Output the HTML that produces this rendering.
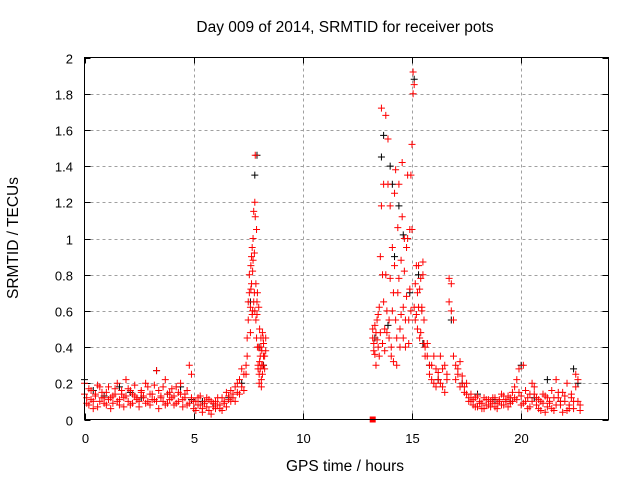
<!DOCTYPE html>
<html><head><meta charset="utf-8"><style>
html,body{margin:0;padding:0;background:#fff;}
svg{display:block;font-family:"Liberation Sans",sans-serif;}
</style></head><body>
<svg id="chart" width="640" height="480" viewBox="0 0 640 480">
<text x="345" y="32" font-size="15.5" text-anchor="middle">Day 009 of 2014, SRMTID for receiver pots</text>
<text x="345" y="471" font-size="15.5" text-anchor="middle">GPS time / hours</text>
<text transform="translate(18,238) rotate(-90)" font-size="15.5" text-anchor="middle">SRMTID / TECUs</text>
<g id="grid"></g>
<g id="ticks"></g>
<g id="black"></g>
<g id="red"></g>
<rect x="84.5" y="57.5" width="524" height="362" fill="none" stroke="#000"/>
</svg>
<script>
const xTicks=[0,5,10,15,20];
const yTicks=[0,0.2,0.4,0.6,0.8,1,1.2,1.4,1.6,1.8,2];
const yTickLabels=["0","0.2","0.4","0.6","0.8","1","1.2","1.4","1.6","1.8","2"];

const hoursA=[0,0.1,0.2,0.3,0.4,0.5,0.6,0.7,0.8,0.9,1,1.1,1.2,1.3,1.4,1.5,1.6,1.7,1.8,1.9,2,2.1,2.2,2.3,2.4,2.5,2.6,2.7,2.8,2.9,3,3.1,3.2,3.3,3.4,3.5,3.6,3.7,3.8,3.9,4,4.1,4.2,4.3,4.4,4.5,4.6,4.7,4.8,4.9,5,5.1,5.2,5.3,5.4,5.5,5.6,5.7,5.8,5.9,6,6.1,6.2,6.3,6.4,6.5,6.6,6.7,6.8,6.9,7,7.1,7.2,7.3];
const tecA1=[.20,.12,.08,.16,.10,.14,.07,.18,.12,.09,.15,.11,.06,.13,.17,.10,.08,.14,.12,.22,.10,.16,.09,.13,.11,.07,.15,.12,.20,.10,.08,.14,.11,.27,.06,.13,.10,.22,.09,.15,.12,.08,.18,.10,.14,.07,.12,.16,.09,.25,.10,.05,.12,.08,.04,.10,.07,.11,.03,.09,.06,.12,.08,.05,.10,.07,.13,.10,.14,.18,.15,.22,.18,.25];
const tecA2=[.14,.09,.17,.11,.06,.13,.19,.10,.15,.12,.08,.18,.12,.09,.14,.20,.11,.16,.07,.13,.17,.08,.14,.19,.12,.10,.16,.13,.09,.18,.14,.11,.19,.10,.16,.12,.18,.08,.14,.11,.17,.13,.09,.15,.20,.11,.14,.08,.30,.12,.06,.10,.08,.13,.06,.09,.12,.05,.10,.07,.10,.08,.06,.12,.09,.15,.11,.16,.12,.10,.20,.14,.28,.16];

const hoursB=[7.4,7.45,7.5,7.55,7.6,7.62,7.65,7.68,7.7,7.72,7.75,7.78,7.8,7.82,7.85,7.88,7.9,7.92,7.95,7.98,8.0,8.02,8.05,8.08,8.1,8.12,8.15,8.18,8.2,8.25,8.3];
const tecB1=[.30,.45,.55,.70,.62,.85,.75,.95,.60,.88,1.15,.70,1.20,1.46,.55,1.05,.65,.40,.30,.62,.25,.50,.35,.45,.22,.38,.48,.30,.42,.35,.45];
const tecB2=[.25,.35,.65,.80,.48,.72,.90,.58,.82,1.0,.65,.92,.60,1.12,.75,.45,.58,.70,.28,.40,.20,.32,.28,.40,.18,.30,.25,.45,.35,.28,.38];

const hoursC=[13.2,13.25,13.3,13.35,13.4,13.45,13.5,13.55,13.6,13.65,13.7,13.75,13.8,13.85,13.9,13.95,14,14.05,14.1,14.15,14.2,14.25,14.3,14.35,14.4,14.45,14.5,14.55,14.6,14.65,14.7,14.75,14.8,14.85,14.9,14.95,15,15.05,15.1,15.15,15.2,15.25,15.3,15.35,15.4,15.45,15.5,15.55,15.6];
const tecC1=[.50,.42,.36,.48,.55,.40,.62,.90,1.72,.80,1.30,.50,1.68,.60,1.55,.45,1.18,.35,.95,.70,1.25,.55,.30,1.06,.78,.50,.88,1.42,.62,1.00,.40,.95,1.35,.55,1.05,.60,1.52,1.92,1.85,.75,.58,.70,.85,.45,.78,.62,.87,.55,.40];
const tecC2=[.45,.38,.52,.30,.44,.58,.35,.48,1.18,.42,.65,.38,.80,.48,1.30,.55,.78,.40,.60,.32,.85,1.38,.45,.70,1.30,.40,.58,1.12,.45,.82,.55,.68,1.00,.42,.72,1.35,1.05,1.80,.62,.55,.85,.50,.62,.72,.48,.60,.80,.42,.35];

const hoursD=[15.7,15.8,15.9,16,16.1,16.2,16.3,16.4,16.5,16.6,16.7,16.8,16.9,17,17.1,17.2,17.3,17.4,17.5,17.6,17.7,17.8,17.9,18,18.1,18.2,18.3,18.4,18.5,18.6,18.7,18.8,18.9,19,19.1,19.2,19.3,19.4,19.5,19.6,19.7,19.8,19.9,20,20.1,20.2,20.3,20.4,20.5,20.6,20.7,20.8,20.9,21,21.1,21.2,21.3,21.4,21.5,21.6,21.7,21.8,21.9,22,22.1,22.2,22.3,22.4,22.5,22.6,22.7];
const tecD1=[.35,.25,.30,.20,.28,.22,.35,.18,.30,.25,.65,.75,.55,.30,.25,.32,.20,.18,.14,.12,.10,.08,.12,.07,.10,.09,.06,.11,.08,.10,.12,.07,.09,.11,.08,.13,.10,.07,.12,.15,.18,.11,.28,.13,.09,.16,.12,.07,.20,.14,.08,.11,.05,.09,.13,.07,.10,.16,.05,.22,.12,.08,.15,.10,.05,.08,.12,.06,.25,.10,.05];
const tecD2=[.42,.30,.22,.35,.18,.26,.20,.28,.15,.22,.78,.60,.35,.22,.28,.18,.24,.15,.20,.10,.14,.11,.07,.13,.09,.06,.12,.08,.11,.07,.09,.12,.06,.10,.14,.08,.11,.13,.09,.10,.12,.22,.15,.08,.30,.10,.06,.14,.10,.18,.12,.06,.10,.14,.04,.12,.09,.06,.12,.08,.15,.10,.04,.13,.20,.06,.14,.10,.18,.22,.08];

const blackHours=[0,0.4,0.9,1.6,2.1,2.6,3.3,3.8,4.4,4.9,5.4,6.0,6.6,7.2,7.6,7.8,7.9,8.0,8.2,13.3,13.6,13.7,13.9,14.0,14.1,14.2,14.4,14.6,14.9,15.1,15.3,15.5,15.8,16.2,16.8,17.3,18.0,18.8,19.5,20.0,20.6,21.2,21.8,22.4,22.6];
const blackTec=[0.22,0.16,0.13,0.18,0.15,0.12,0.27,0.14,0.18,0.11,0.1,0.08,0.12,0.2,0.65,1.35,1.46,0.4,0.3,0.45,1.45,1.57,0.52,1.4,1.3,0.9,1.18,1.02,0.7,1.88,0.8,0.42,0.3,0.22,0.55,0.2,0.14,0.11,0.1,0.3,0.12,0.22,0.1,0.28,0.2];
const squareHours=[13.2];
const squareTec=[0];

const X0=84.5,X1=608.5,Y0=419.5,Y1=57.5;
const xs=h=>X0+(h/24)*(X1-X0);
const ys=v=>Y0-(v/2)*(Y0-Y1);
const NS="http://www.w3.org/2000/svg";
function mk(tag,attrs,parent){const e=document.createElementNS(NS,tag);for(const k in attrs)e.setAttribute(k,attrs[k]);parent.appendChild(e);return e;}
const grid=document.getElementById('grid'),ticks=document.getElementById('ticks');
xTicks.forEach(t=>{
  const x=Math.round(xs(t))+0.5;
  if(t>0){const g=mk('line',{x1:x,x2:x,y1:Y0,y2:Y1,stroke:'#a0a0a0','stroke-dasharray':'3,3'},grid);
  
  }
  const tk=mk('path',{d:`M${x},${Y0}v-6M${x},${Y1}v6`,stroke:'#000'},ticks);
  
  
  const l=mk('text',{x:x,y:443,'font-size':13,'text-anchor':'middle'},ticks);l.textContent=t;
  
  
});
yTicks.forEach((t,i)=>{
  const y=Math.round(ys(t))+0.5;
  if(t>0&&t<2){const g=mk('line',{x1:X0,x2:X1,y1:y,y2:y,stroke:'#a0a0a0','stroke-dasharray':'3,3'},grid);
  
  }
  const tk=mk('path',{d:`M${X0},${y}h6M${X1},${y}h-6`,stroke:'#000'},ticks);
  
  
  const l=mk('text',{x:73,y:y+5,'font-size':13,'text-anchor':'end'},ticks);l.textContent=yTickLabels[i];
  
  
});
function plus(g,h,v,color,name){
  const x=xs(h),y=ys(v);
  const p=mk('path',{d:`M${x-3.5},${y}h7M${x},${y-3.5}v7`,stroke:color,'stroke-width':1},g);
  
  
}
const bg=document.getElementById('black'),rg=document.getElementById('red');
blackHours.forEach((h,i)=>plus(bg,h,blackTec[i],'#000','black-point'));
[[hoursA,tecA1],[hoursA,tecA2],[hoursB,tecB1],[hoursB,tecB2],[hoursC,tecC1],[hoursC,tecC2],[hoursD,tecD1],[hoursD,tecD2]].forEach(([hs,vs])=>{
  hs.forEach((h,i)=>{if(vs[i]!==undefined)plus(rg,h,vs[i],'#f00','red-point');});
});
squareHours.forEach((h,i)=>{
  const s=mk('rect',{x:xs(h)-3,y:ys(squareTec[i])-3,width:6,height:6,fill:'#f00'},rg);
  
  
});
</script>
</body></html>
